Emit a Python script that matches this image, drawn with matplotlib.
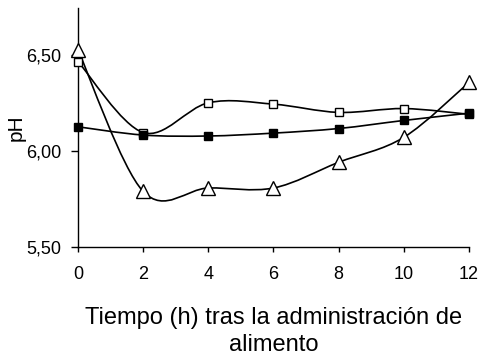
import numpy as np
import matplotlib
matplotlib.use('Agg')
import matplotlib.pyplot as plt
from matplotlib.path import Path
from matplotlib.patches import PathPatch

plt.rcParams['font.family'] = ['Liberation Sans', 'DejaVu Sans']

horas = [0, 2, 4, 6, 8, 10, 12]
ph_blanco = [6.465, 6.095, 6.25, 6.243, 6.20, 6.22, 6.19]
ph_negro = [6.125, 6.082, 6.077, 6.092, 6.116, 6.158, 6.196]
ph_triangulo = [6.525, 5.788, 5.806, 5.806, 5.94, 6.07, 6.356]


def smooth_path(x, y):
    '''
    Bezier path through the points, like a smoothed spreadsheet line
    '''
    pts = np.column_stack([x, y]).astype(float)
    verts = [pts[0]]
    codes = [Path.MOVETO]
    n = len(pts)
    for i in range(n - 1):
        p0 = pts[max(i - 1, 0)]
        p1 = pts[i]
        p2 = pts[i + 1]
        p3 = pts[min(i + 2, n - 1)]
        c1 = p1 + (p2 - p0) / 6.0
        c2 = p2 - (p3 - p1) / 6.0
        verts += [c1, c2, p2]
        codes += [Path.CURVE4] * 3
    return Path(verts, codes)


fig = plt.figure(figsize=(4.8, 3.56), dpi=100)
ax = fig.add_axes([0.1625, 0.307, 0.8145, 0.671])

series = [
    (ph_triangulo, '^', 'white', 9.5),
    (ph_blanco, 's', 'white', 5.5),
    (ph_negro, 's', 'black', 5.5),
]
for vals, mk, fc, ms in series:
    ax.add_patch(PathPatch(smooth_path(horas, vals), facecolor='none',
                           edgecolor='black', linewidth=1.2, zorder=2))
    ax.plot(horas, vals, linestyle='none', marker=mk, markersize=ms,
            markerfacecolor=fc, markeredgecolor='black', markeredgewidth=1.0,
            zorder=3, clip_on=False)

ax.set_xlim(0, 12)
ax.set_ylim(5.5, 6.745)
ax.set_xticks(horas)
ax.set_yticks([5.5, 6.0, 6.5])
ax.set_yticklabels(['5,50', '6,00', '6,50'])
ax.tick_params(axis='both', labelsize=13, direction='out', width=1)
ax.tick_params(axis='y', length=5, pad=7)
ax.tick_params(axis='x', length=3.6, pad=10.5)

for side in ['top', 'right']:
    ax.spines[side].set_visible(False)
for side in ['left', 'bottom']:
    ax.spines[side].set_linewidth(1)

ax.set_ylabel('pH', fontsize=15, labelpad=0)
ax.set_xlabel('Tiempo (h) tras la administración de\nalimento', fontsize=17,
              labelpad=17, linespacing=1.3)

fig.savefig('out.png', dpi=100)
